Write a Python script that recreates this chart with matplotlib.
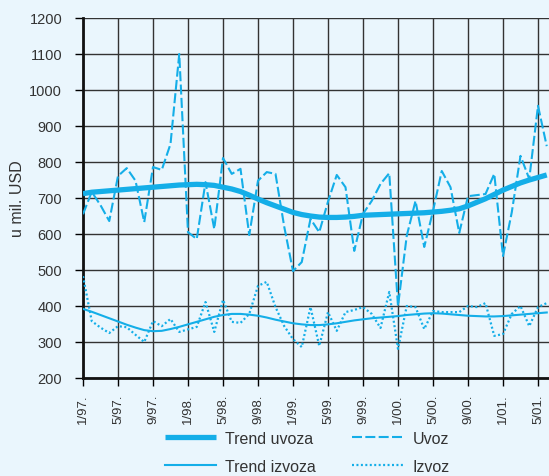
import matplotlib
matplotlib.use("Agg")
import matplotlib.pyplot as plt
import numpy as np

plt.rcParams['font.family'] = ['Liberation Sans', 'DejaVu Sans']

# months from 1/97 (index 0) to 6/01 (index 53)
tick_labels = ["1/97.", "5/97.", "9/97.", "1/98.", "5/98.", "9/98.", "1/99.",
               "5/99.", "9/99.", "1/00.", "5/00.", "9/00.", "1/01.", "5/01."]

uvoz = [655, 717, 680, 636, 761, 783, 748, 633, 786, 778,
        850, 1100, 605, 586, 744, 614, 811, 767, 781, 597,
        748, 772, 767, 620, 497, 522, 642, 605, 690, 764,
        730, 553, 656, 692, 739, 769, 400, 595, 692, 564,
        664, 775, 730, 603, 705, 708, 711, 767, 539, 660,
        817, 753, 956, 844]

trend_uvoza = [712, 716, 718, 720, 722, 724, 726, 728, 730, 732,
               734, 736, 737, 738, 737, 735, 730, 725, 718, 708,
               697, 687, 678, 669, 660, 654, 650, 647, 646, 646,
               647, 649, 652, 653, 654, 655, 656, 657, 658, 659,
               661, 663, 666, 670, 678, 688, 698, 710, 722, 732,
               742, 750, 757, 764]

izvoz = [483, 358, 340, 325, 344, 341, 320, 300, 358, 344,
         364, 328, 335, 342, 411, 328, 417, 356, 353, 378,
         456, 467, 397, 344, 308, 286, 397, 289, 383, 331,
         383, 389, 397, 378, 339, 439, 281, 400, 397, 336,
         386, 383, 383, 383, 400, 397, 408, 317, 322, 378,
         400, 344, 397, 408]

trend_izvoza = [392, 384, 375, 366, 357, 348, 340, 333, 330, 331,
                336, 342, 349, 356, 363, 370, 375, 378, 378, 376,
                373, 368, 362, 357, 352, 349, 347, 347, 349, 352,
                356, 360, 363, 366, 368, 370, 372, 375, 377, 379,
                380, 379, 377, 375, 373, 372, 371, 371, 372, 374,
                376, 378, 380, 382]

months = np.arange(len(uvoz))
ticks = np.arange(0, 4 * len(tick_labels), 4)

blue = '#14aee8'
bg = '#eaf6fd'
W, H = 549, 477
fig = plt.figure(figsize=(W / 100, H / 100), dpi=100, facecolor=bg)
ax = fig.add_axes([83 / W, (H - 379) / H, 472.5 / W, 360 / H])
ax.set_facecolor(bg)

ax.plot(months, trend_uvoza, color=blue, lw=3.8, solid_capstyle='butt', label='Trend uvoza', zorder=5)
ax.plot(months, trend_izvoza, color=blue, lw=1.5, label='Trend izvoza', zorder=5)
ax.plot(months, uvoz, color=blue, lw=1.5, dashes=(4.8, 1.6), label='Uvoz', zorder=4)
ax.plot(months, izvoz, color=blue, lw=1.6, dashes=(0.9, 1.1), label='Izvoz', zorder=4)

ax.set_xlim(0, 54)
ax.set_ylim(200, 1200)
ax.set_yticks(np.arange(200, 1201, 100))
ax.set_xticks(ticks)
ax.set_xticklabels(tick_labels, rotation=90, fontsize=9.5, color='#333333')
ax.tick_params(axis='y', labelsize=10.5, labelcolor='#333333', length=6, width=1, pad=9, direction='out')
ax.tick_params(axis='x', length=6, width=1, pad=5, direction='out')
ax.grid(True, color='#333333', lw=1.0, zorder=1)
ax.set_axisbelow(True)
for s in ['top', 'right']:
    ax.spines[s].set_visible(False)
for s in ['left', 'bottom']:
    ax.spines[s].set_linewidth(2)
    ax.spines[s].set_color('#111111')

ax.set_ylabel('u mil. USD', fontsize=11.5, color='#333333', labelpad=3)

fig.legend(loc='upper left', bbox_to_anchor=(165 / W, 1 - 432 / H), ncol=2,
           frameon=False, fontsize=11.5, handlelength=3.2, handletextpad=0.55,
           columnspacing=2.3, labelspacing=0.8, borderpad=0, borderaxespad=0,
           labelcolor='#333333')

fig.savefig('out.png', dpi=100, facecolor=bg)
